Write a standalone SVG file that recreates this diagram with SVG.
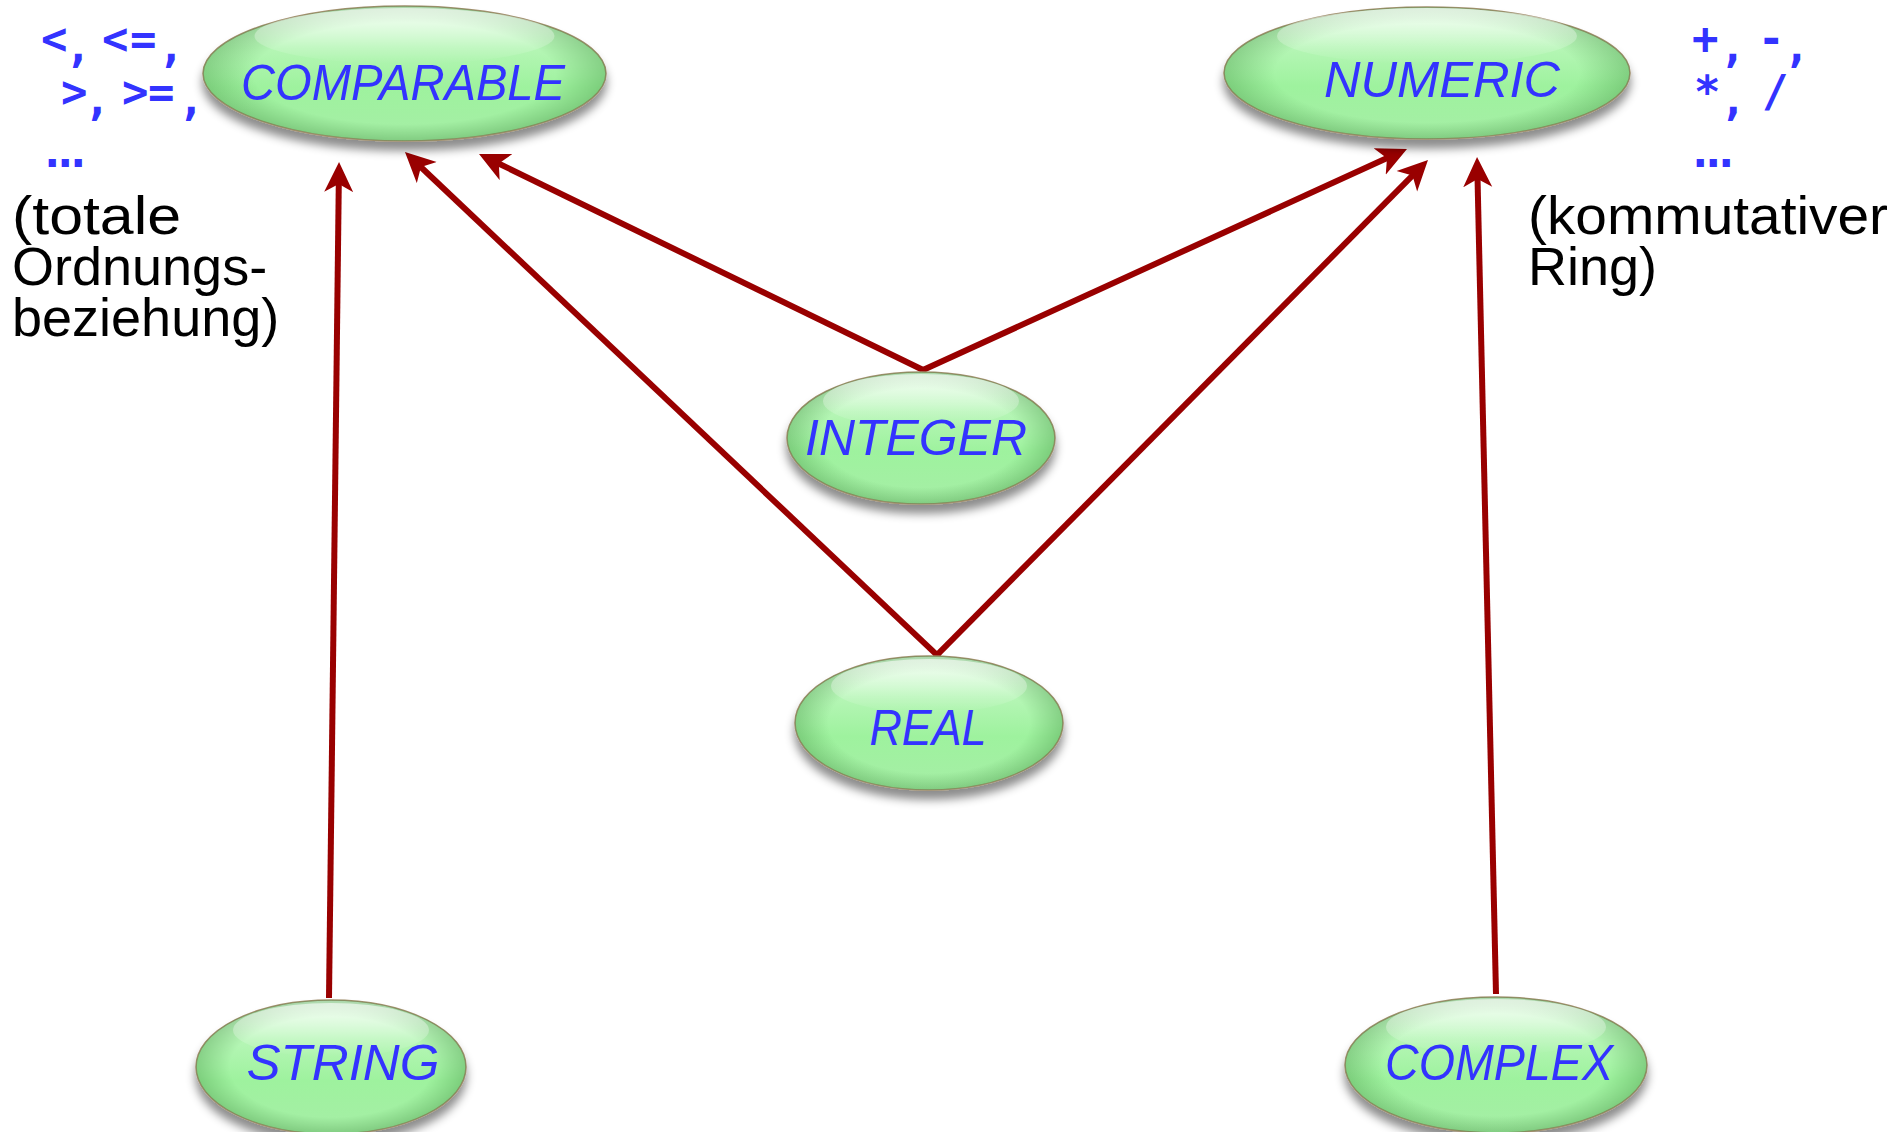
<svg xmlns="http://www.w3.org/2000/svg" width="1893" height="1132" viewBox="0 0 1893 1132">
  <style>
    .ops { font-family: "DejaVu Sans Mono", "Liberation Mono", monospace; font-weight: bold; font-size: 44px; fill: #3333ff; }
    .note { font-family: "Liberation Sans", Arial, sans-serif; font-size: 54px; fill: #000000; }
    .label { font-family: "Liberation Sans", Arial, sans-serif; font-style: italic; font-size: 50px; fill: #3333ff; text-anchor: middle; }
    .body { fill: url(#gloss); stroke: #a08e6c; stroke-width: 1.6; }
    .rim { fill: url(#rimShade); }
    .shine { fill: url(#shine); }
    .edge { fill: none; stroke: #990000; stroke-width: 6; marker-end: url(#head); }
  </style>
  <defs>
    <linearGradient id="gloss" x1="0" y1="0" x2="0" y2="1">
      <stop offset="0" stop-color="#e4fde4"/>
      <stop offset="0.3" stop-color="#b6f6b6"/>
      <stop offset="0.6" stop-color="#9ef29e"/>
      <stop offset="1" stop-color="#a6eea6"/>
    </linearGradient>
    <radialGradient id="rimShade" cx="0.5" cy="0.5" r="0.5">
      <stop offset="0.75" stop-color="#3c8c3c" stop-opacity="0"/>
      <stop offset="1" stop-color="#3c8c3c" stop-opacity="0.35"/>
    </radialGradient>
    <linearGradient id="shine" x1="0" y1="0" x2="0" y2="1">
      <stop offset="0" stop-color="#ffffff" stop-opacity="0.6"/>
      <stop offset="1" stop-color="#ffffff" stop-opacity="0"/>
    </linearGradient>
    <filter id="shadow" x="-10%" y="-20%" width="120%" height="160%">
      <feDropShadow dx="0" dy="9" stdDeviation="5" flood-color="#000000" flood-opacity="0.45"/>
    </filter>
    <marker id="head" markerUnits="userSpaceOnUse" viewBox="0 0 30 30" markerWidth="30" markerHeight="30" refX="10" refY="15" orient="auto">
      <path d="M0,0.5 L30,15 L0,29.5 L8,15 Z" fill="#990000"/>
    </marker>
  </defs>

  <!-- inheritance arrows (child to parent) -->
  <g id="connectors">
    <path class="edge" d="M329,998 L338.8,182"/>
    <path class="edge" d="M939.2,657.1 L419.5,165.7"/>
    <path class="edge" d="M925.7,371.3 L497,162.7"/>
    <path class="edge" d="M920.3,371.2 L1388.8,157.3"/>
    <path class="edge" d="M934.9,657.1 L1413.9,174.2"/>
    <path class="edge" d="M1496,994 L1477.5,177"/>
  </g>

  <g id="comparable">
    <g filter="url(#shadow)">
      <ellipse class="body" cx="404.5" cy="73.5" rx="201.5" ry="67.5"/>
    </g>
    <ellipse class="rim" cx="404.5" cy="73.5" rx="201.5" ry="67.5"/>
    <ellipse class="shine" cx="404.5" cy="36" rx="150" ry="28"/>
    <text class="label" x="403" y="100" textLength="324" lengthAdjust="spacingAndGlyphs">COMPARABLE</text>
  </g>

  <g id="numeric">
    <g filter="url(#shadow)">
      <ellipse class="body" cx="1427" cy="73" rx="203" ry="66"/>
    </g>
    <ellipse class="rim" cx="1427" cy="73" rx="203" ry="66"/>
    <ellipse class="shine" cx="1427" cy="36" rx="150" ry="28"/>
    <text class="label" x="1442" y="97" textLength="236" lengthAdjust="spacingAndGlyphs">NUMERIC</text>
  </g>

  <g id="integer">
    <g filter="url(#shadow)">
      <ellipse class="body" cx="921" cy="438" rx="134" ry="66"/>
    </g>
    <ellipse class="rim" cx="921" cy="438" rx="134" ry="66"/>
    <ellipse class="shine" cx="921" cy="401" rx="98" ry="27"/>
    <text class="label" x="916" y="455" textLength="222" lengthAdjust="spacingAndGlyphs">INTEGER</text>
  </g>

  <g id="real">
    <g filter="url(#shadow)">
      <ellipse class="body" cx="929" cy="723" rx="134" ry="67"/>
    </g>
    <ellipse class="rim" cx="929" cy="723" rx="134" ry="67"/>
    <ellipse class="shine" cx="929" cy="686" rx="98" ry="27"/>
    <text class="label" x="928" y="745" textLength="117" lengthAdjust="spacingAndGlyphs">REAL</text>
  </g>

  <g id="string">
    <g filter="url(#shadow)">
      <ellipse class="body" cx="331" cy="1067" rx="135" ry="67"/>
    </g>
    <ellipse class="rim" cx="331" cy="1067" rx="135" ry="67"/>
    <ellipse class="shine" cx="331" cy="1030" rx="98" ry="27"/>
    <text class="label" x="343" y="1080" textLength="193" lengthAdjust="spacingAndGlyphs">STRING</text>
  </g>

  <g id="complex">
    <g filter="url(#shadow)">
      <ellipse class="body" cx="1496" cy="1065" rx="151" ry="68"/>
    </g>
    <ellipse class="rim" cx="1496" cy="1065" rx="151" ry="68"/>
    <ellipse class="shine" cx="1496" cy="1027" rx="110" ry="28"/>
    <text class="label" x="1499" y="1080" textLength="228" lengthAdjust="spacingAndGlyphs">COMPLEX</text>
  </g>

  <!-- operator notes; glyphs are placed one by one, commas sit low -->
  <g id="comparable-ops">
    <text class="ops" xml:space="preserve" x="41 65 90 102 130 158" y="54 62 54 54 54 62">&lt;, &lt;=,</text>
    <text class="ops" xml:space="preserve" x="61 84 110 122 148 178" y="107 115 107 107 107 115">&gt;, &gt;=,</text>
    <text class="ops" x="39 52 65" y="167">...</text>
    <text class="note" x="12" y="234" textLength="169" lengthAdjust="spacingAndGlyphs">(totale</text>
    <text class="note" x="12" y="285">Ordnungs-</text>
    <text class="note" x="12" y="336">beziehung)</text>
  </g>

  <g id="numeric-ops">
    <text class="ops" xml:space="preserve" x="1692 1719.5 1745 1758 1783.5" y="54 62 54 54 62">+, -,</text>
    <text class="ops" xml:space="preserve" x="1694 1720 1745 1762" y="107 115 107 107">*, /</text>
    <text class="ops" x="1687 1700 1713" y="167">...</text>
    <text class="note" x="1528" y="234" textLength="360" lengthAdjust="spacingAndGlyphs">(kommutativer</text>
    <text class="note" x="1528" y="285">Ring)</text>
  </g>
</svg>
